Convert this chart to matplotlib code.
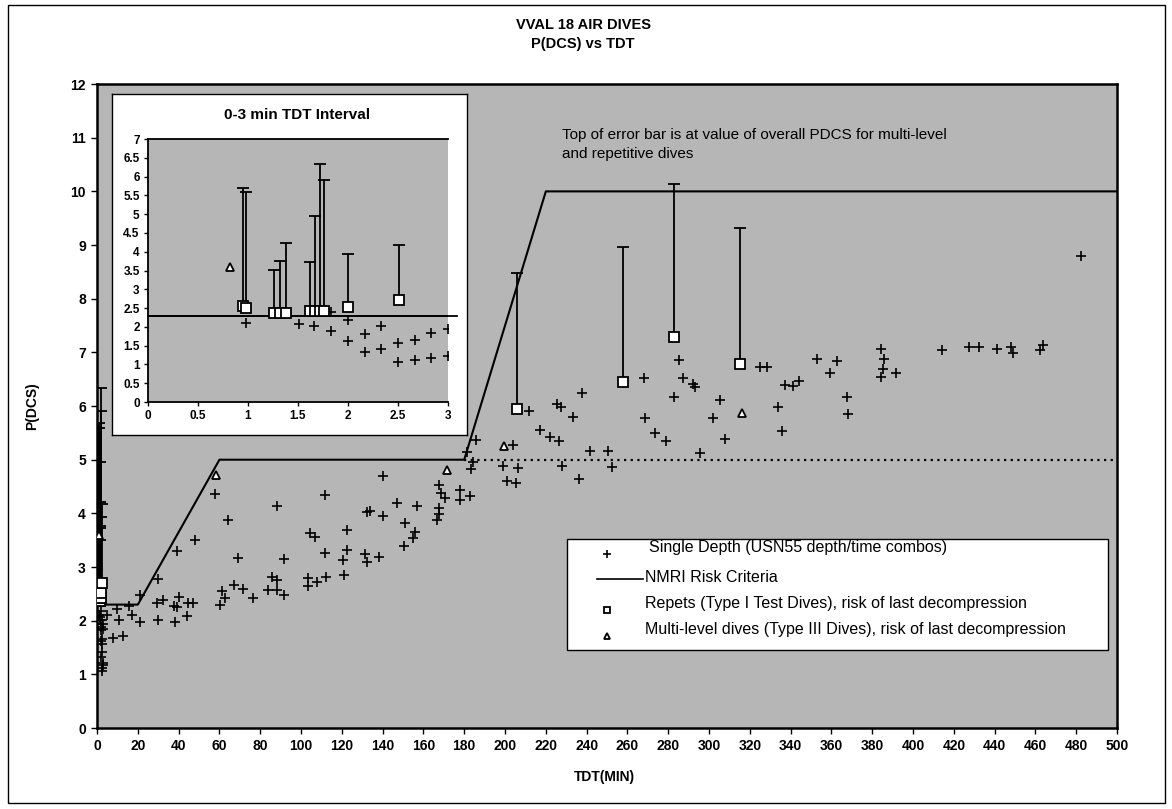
import matplotlib
matplotlib.use("Agg")
import matplotlib.pyplot as plt
from matplotlib import font_manager
from matplotlib.patches import Rectangle

names = {f.name for f in font_manager.fontManager.ttflist}
NARROW = "Liberation Sans Narrow" in names
FONT = "Liberation Sans Narrow" if NARROW else "Liberation Sans"
plt.rcParams["font.family"] = [FONT, "DejaVu Sans"]
K = 1.2 if NARROW else 1.0   # narrow face needs a bigger size for the same width

# single depth dives (USN55 depth/time combos): TDT (min), P(DCS) (%)
sd_tdt = [0.98, 1.51, 1.66, 1.83, 1.83, 2.0, 2.0, 2.17, 2.17, 2.33, 2.33, 2.5, 2.5,
          2.67, 2.67, 2.83, 2.83, 3.0, 3.0,
          4.7, 8, 12.9, 10, 11, 15.8, 17, 21.1, 21.1, 29.2, 30, 30, 32.5, 37.7, 38.2,
          39, 39.4, 40.4, 44, 44.8, 47.2, 48, 57.8, 60.3, 61.1, 62.7, 64, 67.2, 69.3,
          71.7, 76.3, 84, 85.6, 88, 88.4, 88.4, 91.7, 91.7, 103.6, 103.6, 104.4, 106.9,
          108, 111.8, 111.8, 112.3, 120.8, 121, 122.4, 122.7, 131.4, 132.2, 132.2, 134,
          138.4, 140, 140.4, 146.9,
          150.5, 151, 154.7, 155.9, 157, 166.8, 167.8, 167.8, 167.8, 168.5, 170.6, 178,
          178, 182.8, 181.2, 183.2, 184.2, 185.8, 199.2, 201, 203.8, 205.4, 206.5, 211.8,
          217.2, 222.1, 226.5, 225.4, 227.3, 227.8, 233.2, 236.4, 237.7, 241.7, 250.6,
          252.3, 268.3, 268.6, 273.5, 278.9, 282.8, 285.3, 287.1, 292.3, 293.1, 295.5,
          302.1, 305.4, 307.8,
          325, 328.3, 333.9, 335.6, 337.3, 341, 344.3, 353.1, 359.3, 362.9, 367.8, 368.3,
          384.1, 385.8, 385.4, 384.1, 391.7, 414.1, 427.6, 432.5, 441.3, 447.8, 448.8,
          462.2, 463.9, 482.2]
sd_pdcs = [2.11, 2.07, 2.02, 1.88, 2.40, 2.18, 1.63, 1.82, 1.33, 2.02, 1.42, 1.57, 1.07,
           1.66, 1.11, 1.84, 1.18, 1.93, 1.22,
           2.10, 1.67, 1.72, 2.21, 2.01, 2.28, 2.11, 2.48, 1.97, 2.33, 2.01, 2.77, 2.38,
           2.28, 1.98, 3.29, 2.25, 2.45, 2.08, 2.33, 2.33, 3.51, 4.37, 2.29, 2.56, 2.42,
           3.88, 2.67, 3.17, 2.59, 2.42, 2.57, 2.82, 2.76, 2.57, 4.13, 3.15, 2.48, 2.79,
           2.65, 3.64, 3.56, 2.73, 3.27, 4.35, 2.82, 3.13, 2.85, 3.31, 3.69, 3.25, 3.10,
           4.02, 4.05, 3.18, 3.96, 4.70, 4.19,
           3.40, 3.82, 3.54, 3.66, 4.14, 3.87, 3.99, 4.10, 4.53, 4.38, 4.28, 4.44, 4.25,
           4.33, 5.14, 4.83, 4.95, 5.37, 4.88, 4.60, 5.28, 4.56, 4.84, 5.91, 5.56, 5.42,
           5.34, 6.04, 5.99, 4.88, 5.80, 4.64, 6.24, 5.16, 5.16, 4.86, 6.52, 5.78, 5.49,
           5.34, 6.17, 6.85, 6.52, 6.41, 6.35, 5.12, 5.78, 6.12, 5.39,
           6.73, 6.73, 5.98, 5.53, 6.40, 6.37, 6.46, 6.87, 6.62, 6.84, 6.17, 5.86, 7.07,
           6.87, 6.69, 6.54, 6.62, 7.04, 7.10, 7.10, 7.07, 7.10, 6.99, 7.05, 7.13, 8.79]

# repets (Type I test dives): risk of last decompression, top of bar = overall PDCS
rep_tdt = [0.95, 0.98, 1.26, 1.32, 1.38, 1.62, 1.67, 1.72, 1.76, 2.0, 2.51,
           206, 258, 283, 315]
rep_pdcs = [2.55, 2.51, 2.36, 2.36, 2.36, 2.43, 2.43, 2.43, 2.43, 2.52, 2.71,
            5.95, 6.44, 7.29, 6.79]
rep_top = [5.69, 5.60, 3.51, 3.76, 4.22, 3.72, 4.96, 6.33, 5.91, 3.94, 4.17,
           8.48, 8.96, 10.13, 9.31]

# multi-level dives (Type III)
ml_tdt = [0.82, 58.3, 171.4, 199.5, 316.3]
ml_pdcs = [3.6, 4.72, 4.80, 5.26, 5.87]

# NMRI risk criteria
nmri_tdt = [0, 20, 60, 180, 220, 500]
nmri_pdcs = [2.3, 2.3, 5, 5, 10, 10]
ref_tdt = [180, 500]
ref_pdcs = [5, 5]

GRAY = "#b6b6b6"

fig = plt.figure(figsize=(11.72, 8.09), dpi=100)
fig.patches.append(Rectangle((0.007, 0.007), 0.987, 0.987, transform=fig.transFigure,
                             fill=False, lw=1.0, color="k"))

fig.text(0.4975, 0.969, "VVAL 18 AIR DIVES", ha="center", va="center",
         fontsize=10.5 * K, fontweight="bold")
fig.text(0.4975, 0.946, "P(DCS) vs TDT", ha="center", va="center",
         fontsize=10.5 * K, fontweight="bold")

ax = fig.add_axes([0.0828, 0.1001, 0.8703, 0.7960])
ax.set_facecolor(GRAY)
ax.set_xlim(0, 500)
ax.set_ylim(0, 12)
ax.set_xticks(range(0, 501, 20))
ax.set_yticks(range(0, 13))
ax.tick_params(direction="out", length=4, width=1, pad=4, labelsize=10 * K)
for lab in ax.get_xticklabels() + ax.get_yticklabels():
    lab.set_fontweight("bold")
for s in ax.spines.values():
    s.set_linewidth(1.8)

ax.plot(nmri_tdt, nmri_pdcs, color="k", lw=1.5, zorder=2)
ax.plot(ref_tdt, ref_pdcs, color="k", lw=1.6, ls=(0, (1, 2)), zorder=2)
ax.vlines(rep_tdt, rep_pdcs, rep_top, color="k", lw=1.3, zorder=3)
ax.plot(rep_tdt, rep_top, ls="none", marker="_", ms=9, mew=1.3, color="k", zorder=3)
ax.plot(sd_tdt, sd_pdcs, ls="none", marker="+", ms=7, mew=1.2, color="k", zorder=4)
ax.plot(rep_tdt, rep_pdcs, ls="none", marker="s", ms=6.5, mew=1.3, mfc="white",
        mec="k", zorder=5)
ax.plot(ml_tdt, ml_pdcs, ls="none", marker="^", ms=6, mew=1.3, mfc="white",
        mec="k", zorder=5)

ax.text(228, 11.05, "Top of error bar is at value of overall PDCS for multi-level",
        fontsize=11 * K, va="center", ha="left")
ax.text(228, 10.7, "and repetitive dives", fontsize=11 * K, va="center", ha="left")

# legend box drawn by hand
lx0, lx1, ly0, ly1 = 0.4603, 0.9913, 0.121, 0.2935
ax.add_patch(Rectangle((lx0, ly0), lx1 - lx0, ly1 - ly0, transform=ax.transAxes,
                       facecolor="white", edgecolor="k", lw=1.0, zorder=6))
mx = 0.4603 + 0.075 * (lx1 - lx0)
tx = 0.4603 + 0.145 * (lx1 - lx0)
ax.plot([mx], [0.271], transform=ax.transAxes, marker="+", ms=6, mew=1.2, color="k",
        ls="none", zorder=7)
ax.plot([0.4603 + 0.056 * (lx1 - lx0), tx - 0.002], [0.231, 0.231],
        transform=ax.transAxes, color="k", lw=1.2, zorder=7)
ax.plot([mx], [0.1835], transform=ax.transAxes, marker="s", ms=5, mew=1.3,
        mfc="white", mec="k", ls="none", zorder=7)
ax.plot([mx], [0.1435], transform=ax.transAxes, marker="^", ms=5, mew=1.3,
        mfc="white", mec="k", ls="none", zorder=7)
leg_txt = [(tx + 0.004, 0.281, "Single Depth (USN55 depth/time combos)"),
           (tx, 0.2335, "NMRI Risk Criteria"),
           (tx, 0.1935, "Repets (Type I Test Dives), risk of last decompression"),
           (tx, 0.1535, "Multi-level dives (Type III Dives), risk of last decompression")]
for x, y, t in leg_txt:
    ax.text(x, y, t, transform=ax.transAxes, fontsize=11.5 * K, va="center",
            ha="left", zorder=8)

fig.text(0.516, 0.040, "TDT(MIN)", ha="center", va="center", fontsize=10 * K,
         fontweight="bold")
fig.text(0.027, 0.498, "P(DCS)", ha="center", va="center", rotation=90,
         fontsize=10 * K, fontweight="bold")

# inset: 0-3 min TDT interval
panel = fig.add_axes([0.09556, 0.46229, 0.30290, 0.42150])
panel.set_facecolor("white")
panel.set_xticks([])
panel.set_yticks([])
for s in panel.spines.values():
    s.set_linewidth(1.0)
fig.text(0.2534, 0.8578, "0-3 min TDT Interval", ha="center", va="center",
         fontsize=11 * K, fontweight="bold")

ins = fig.add_axes([0.12628, 0.50309, 0.25597, 0.32509])
ins.set_facecolor(GRAY)
ins.set_xlim(0, 3)
ins.set_ylim(0, 7)
xt = [0, 0.5, 1, 1.5, 2, 2.5, 3]
yt = [i * 0.5 for i in range(15)]
ins.set_xticks(xt)
ins.set_xticklabels([f"{v:g}" for v in xt])
ins.set_yticks(yt)
ins.set_yticklabels([f"{v:g}" for v in yt])
ins.tick_params(direction="out", length=3, width=1, pad=3, labelsize=8.5 * K)
for lab in ins.get_xticklabels() + ins.get_yticklabels():
    lab.set_fontweight("bold")
ins.spines["right"].set_visible(False)
for k in ("left", "bottom", "top"):
    ins.spines[k].set_linewidth(1.3)

ins.plot(nmri_tdt, nmri_pdcs, color="k", lw=1.3, zorder=2)
# criteria line runs a little past the inset plot edge, as in the original
ins.plot([0, 3.09], [nmri_pdcs[0], nmri_pdcs[0]], color="k", lw=1.3, zorder=2,
         clip_on=False)
ins.vlines(rep_tdt, rep_pdcs, rep_top, color="k", lw=1.3, zorder=3)
ins.plot(rep_tdt, rep_top, ls="none", marker="_", ms=8, mew=1.3, color="k", zorder=3)
ins.plot(sd_tdt, sd_pdcs, ls="none", marker="+", ms=6.5, mew=1.2, color="k", zorder=4)
ins.plot(rep_tdt, rep_pdcs, ls="none", marker="s", ms=7, mew=1.3, mfc="white",
         mec="k", zorder=5)
ins.plot(ml_tdt, ml_pdcs, ls="none", marker="^", ms=6, mew=1.3, mfc="white",
         mec="k", zorder=5)

fig.savefig("out.png", dpi=100)
